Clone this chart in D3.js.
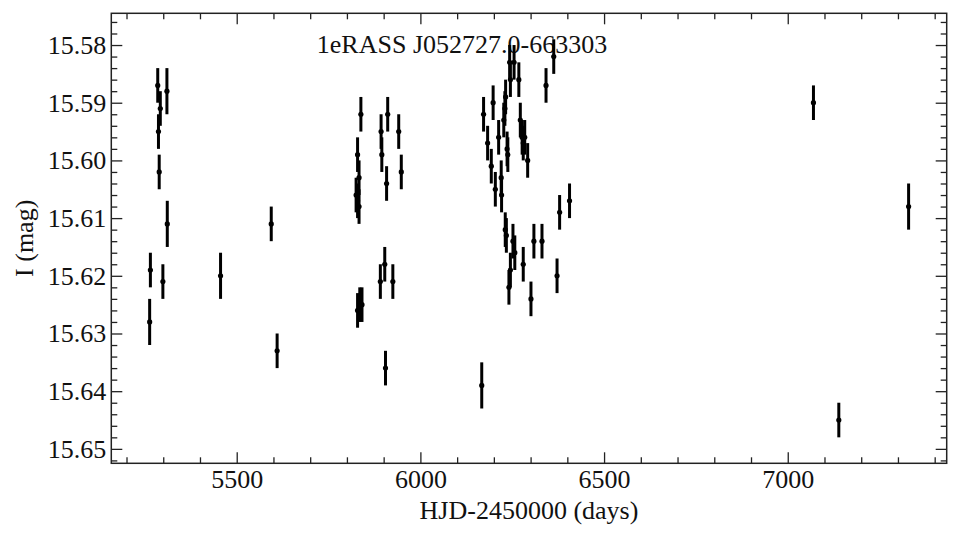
<!DOCTYPE html>
<html>
<head>
<meta charset="utf-8">
<script src="https://cdn.jsdelivr.net/npm/d3@7"></script>
<style>
  body { margin: 0; background: #fff; }
  svg text { font-family: "Liberation Serif", "Times New Roman", Times, "DejaVu Serif", serif !important; fill: #111; }
</style>
</head>
<body>
<script>
// light curve values
let hjd = [
  5263, 5265, 5285, 5287, 5289, 5292, 5299, 5310, 5311, 5456, 5594, 5610,
  5825, 5829, 5833, 5829, 5833, 5838, 5829, 5835, 5841,
  5891, 5893, 5895, 5903, 5905, 5908, 5911, 5925, 5941, 5948,
  6167, 6172, 6183, 6193, 6198, 6204, 6213, 6220, 6221, 6227,
  6230, 6231, 6232, 6234, 6236, 6238, 6241, 6243, 6245, 6245,
  6252, 6255, 6257, 6268, 6272, 6277, 6280, 6280, 6284, 6292,
  6301, 6309, 6331, 6342, 6363, 6372, 6379, 6406,
  7070, 7139, 7329
]
let mag = [
  15.628, 15.619, 15.587, 15.595, 15.602, 15.591, 15.621, 15.588, 15.611, 15.620, 15.611, 15.633,
  15.606, 15.607, 15.608, 15.599, 15.603, 15.592, 15.626, 15.625, 15.625,
  15.621, 15.595, 15.599, 15.618, 15.636, 15.604, 15.592, 15.621, 15.595, 15.602,
  15.639, 15.592, 15.597, 15.601, 15.590, 15.605, 15.596, 15.603, 15.606, 15.593,
  15.591, 15.612, 15.589, 15.613, 15.598, 15.599, 15.622, 15.583, 15.586, 15.619,
  15.614, 15.583, 15.616, 15.586, 15.593, 15.596, 15.597, 15.618, 15.596, 15.600,
  15.624, 15.614, 15.614, 15.587, 15.582, 15.620, 15.609, 15.607,
  15.590, 15.645, 15.608
]
let magErr = [
  0.004, 0.003, 0.003, 0.003, 0.003, 0.003, 0.003, 0.004, 0.004, 0.004, 0.003, 0.003,
  0.003, 0.003, 0.003, 0.003, 0.003, 0.003, 0.003, 0.003, 0.003,
  0.003, 0.003, 0.003, 0.003, 0.003, 0.003, 0.003, 0.003, 0.003, 0.003,
  0.004, 0.003, 0.003, 0.003, 0.003, 0.003, 0.003, 0.003, 0.003, 0.003,
  0.003, 0.003, 0.003, 0.003, 0.003, 0.003, 0.003, 0.003, 0.003, 0.003,
  0.003, 0.003, 0.003, 0.003, 0.003, 0.003, 0.003, 0.003, 0.003, 0.003,
  0.003, 0.003, 0.003, 0.003, 0.003, 0.003, 0.003, 0.003,
  0.003, 0.003, 0.004
]
let xTicks = [5500, 6000, 6500, 7000]
let yTicks = [15.58, 15.59, 15.60, 15.61, 15.62, 15.63, 15.64, 15.65]
let title = '1eRASS J052727.0-663303'

let width = 960
let height = 540
let padLeft = 111.3, padRight = 946.7, padTop = 13.3, padBottom = 463.3
let serif = '"Liberation Serif", "Times New Roman", Times, "DejaVu Serif", serif'

let values = hjd.map((d, i) => [d, mag[i], magErr[i]])

let svg = d3.select('body').append('svg')
    .attr('width', width)
    .attr('height', height)

let xScale = d3.scaleLinear()
    .domain([5158.6, 7432.7])
    .range([padLeft, padRight])

// magnitudes: brighter on top
let yScale = d3.scaleLinear()
    .domain([15.5745, 15.6525])
    .range([padTop, padBottom])

let xMinor = d3.range(5200, 7433, 100).filter(v => v % 500 != 0)
let yMinor = d3.range(15.576, 15.6525, 0.002).filter(v => Math.abs(Math.round(v * 100) - v * 100) > 1e-6)

let majorLen = 11, minorLen = 6

// tick marks point inwards, on all four sides
const tickAxis = (axisFn, scale, vals, len, labels, pad) => axisFn(scale)
    .tickValues(vals)
    .tickSizeInner(-len)
    .tickSizeOuter(0)
    .tickPadding(pad || 0)
    .tickFormat(labels ? labels : () => '')

const styleAxis = (g) => {
    g.attr('font-family', null)
    g.select('.domain').remove()
    g.selectAll('line').attr('stroke', '#222').attr('stroke-width', 1.3)
    g.selectAll('text').attr('font-size', 26).attr('fill', '#111')
        .style('font-family', serif)
}

const addAxis = (axis, tx, ty) => {
    svg.append('g')
        .attr('transform', 'translate(' + tx + ',' + ty + ')')
        .call(axis)
        .call(styleAxis)
}

addAxis(tickAxis(d3.axisBottom, xScale, xTicks, majorLen, d3.format('d'), 6), 0, padBottom)
addAxis(tickAxis(d3.axisBottom, xScale, xMinor, minorLen), 0, padBottom)
addAxis(tickAxis(d3.axisTop, xScale, xTicks, majorLen), 0, padTop)
addAxis(tickAxis(d3.axisTop, xScale, xMinor, minorLen), 0, padTop)
addAxis(tickAxis(d3.axisLeft, yScale, yTicks, majorLen, d3.format('.2f'), 5), padLeft, 0)
addAxis(tickAxis(d3.axisLeft, yScale, yMinor, minorLen), padLeft, 0)
addAxis(tickAxis(d3.axisRight, yScale, yTicks, majorLen), padRight, 0)
addAxis(tickAxis(d3.axisRight, yScale, yMinor, minorLen), padRight, 0)

svg.selectAll('.tick text').filter(function () { return d3.select(this).text() === '' }).remove()

//frame
svg.append('rect')
    .attr('x', padLeft)
    .attr('y', padTop)
    .attr('width', padRight - padLeft)
    .attr('height', padBottom - padTop)
    .attr('fill', 'none')
    .attr('stroke', '#222')
    .attr('stroke-width', 1.5)

//title inside the plot
svg.append('text')
    .attr('x', 462)
    .attr('y', 53)
    .attr('text-anchor', 'middle')
    .attr('font-size', 26)
    .style('font-family', serif)
    .text(title)

//error bars and points
let pts = svg.append('g')

pts.selectAll('line')
    .data(values)
    .enter()
    .append('line')
    .attr('x1', d => xScale(d[0]))
    .attr('x2', d => xScale(d[0]))
    .attr('y1', d => yScale(d[1] - d[2]))
    .attr('y2', d => yScale(d[1] + d[2]))
    .attr('stroke', '#000')
    .attr('stroke-width', 3)

pts.selectAll('circle')
    .data(values)
    .enter()
    .append('circle')
    .attr('cx', d => xScale(d[0]))
    .attr('cy', d => yScale(d[1]))
    .attr('r', 2.6)
    .attr('fill', '#000')

//axis labels
svg.append('text')
    .attr('x', (padLeft + padRight) / 2)
    .attr('y', 519)
    .attr('text-anchor', 'middle')
    .attr('font-size', 26)
    .style('font-family', serif)
    .text('HJD-2450000 (days)')

svg.append('text')
    .attr('transform', 'translate(33,' + (padTop + padBottom) / 2 + ') rotate(-90)')
    .attr('text-anchor', 'middle')
    .attr('font-size', 26)
    .style('font-family', serif)
    .text('I (mag)')
</script>
</body>
</html>
